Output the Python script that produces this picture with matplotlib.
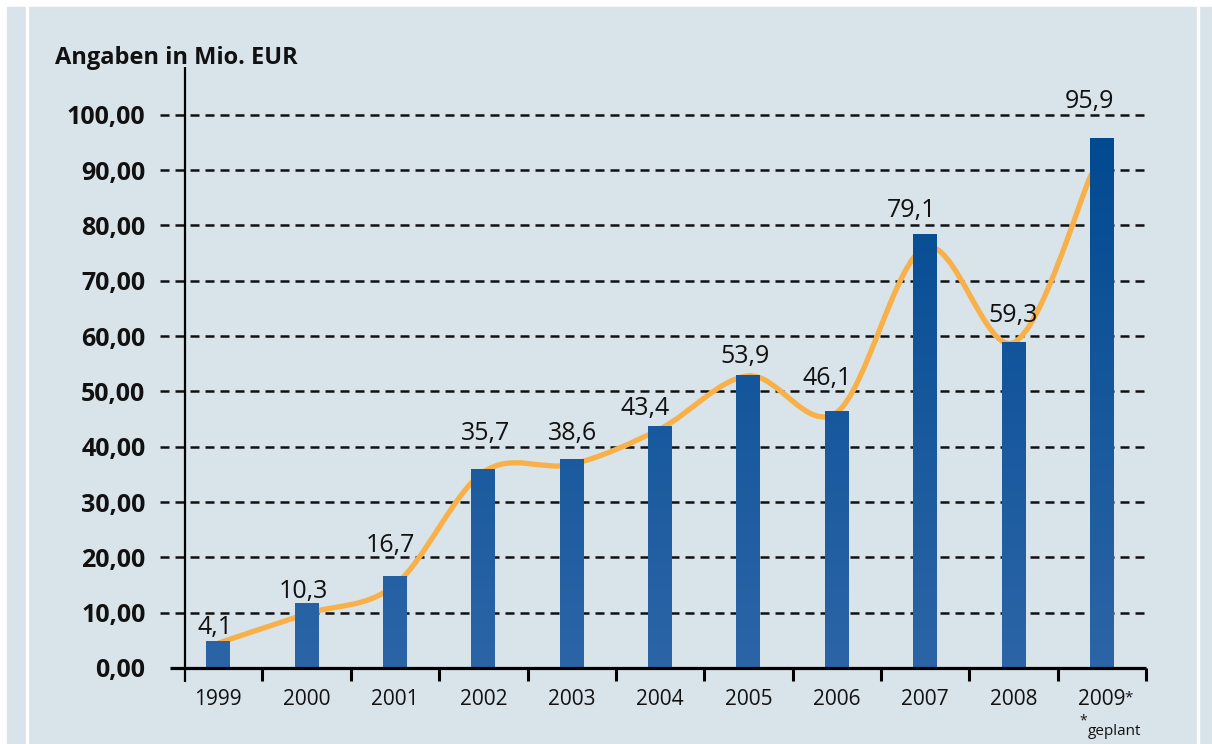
#!/usr/bin/env python3
"""Angaben in Mio. EUR, 1999-2009: bars with smoothed trend line."""

import numpy as np
import matplotlib.pyplot as plt
from matplotlib.patches import Rectangle, PathPatch
from matplotlib.path import Path
from matplotlib.colors import LinearSegmentedColormap

years = ["1999", "2000", "2001", "2002", "2003", "2004",
         "2005", "2006", "2007", "2008", "2009"]
labels = ["4,1", "10,3", "16,7", "35,7", "38,6", "43,4",
          "53,9", "46,1", "79,1", "59,3", "95,9"]
# bar heights as drawn in the picture
bar_heights = [4.7, 11.6, 16.6, 35.8, 37.6, 43.6, 52.9, 46.3, 78.3, 58.8, 95.7]
# trend line anchors (x in category units, y in Mio. EUR)
trend_x = [0, 1, 2, 3, 4, 5, 6, 7, 8, 9, 9.88]
trend_y = [4.5, 9.8, 15.0, 35.4, 36.8, 43.2, 52.8, 46.2, 76.0, 58.8, 89.2]
yticks = [0, 10, 20, 30, 40, 50, 60, 70, 80, 90, 100]

# label nudges in pixels (dx, dy above bar top)
label_dx = [-3, -3, -5, 2, 1, -15, -3, -10, -13, 0, -12]
label_dy = [8, 6, 24, 30, 20, 12, 12, 27, 18, 21, 31]

FONT = "Open Sans"
PANEL = "#d9e3ea"
ORANGE = "#f8b048"

W, H = 1212, 744
fig = plt.figure(figsize=(W / 100, H / 100), dpi=100)
fig.patch.set_facecolor("white")
fig.add_artist(Rectangle((7 / W, 0), (W - 7) / W, (H - 7) / H,
                         transform=fig.transFigure, color=PANEL, zorder=0))
for xl in (26, 1197):
    fig.add_artist(Rectangle((xl / W, 0), 2 / W, (H - 7) / H,
                             transform=fig.transFigure, color="white", zorder=0))

ax = fig.add_axes([160 / W, (H - 668) / H, (1146 - 160) / W, (668 - 65) / H])
ax.set_facecolor("none")
for s in ax.spines.values():
    s.set_visible(False)

x = np.arange(len(years))
xmin, xmax, ymax = -0.66, 10.5, 109

# dashed grid
ax.hlines(yticks[1:], xmin, xmax, colors="#111111", linewidth=1.8,
          linestyles=(0, (3.6, 2.4)), zorder=1)

# bars with vertical gradient
cmap = LinearSegmentedColormap.from_list("bars", ["#2b65a7", "#004990"])
bars = ax.bar(x, bar_heights, width=0.27, color="none", zorder=2)
for b in bars:
    x0, w, h = b.get_x(), b.get_width(), b.get_height()
    grad = np.linspace(0, h / 100, 64).reshape(-1, 1)
    ax.imshow(grad, extent=[x0, x0 + w, 0, h], origin="lower", cmap=cmap,
              vmin=0, vmax=1, aspect="auto", zorder=2)

# smooth trend line (Catmull-Rom -> cubic Bezier)
pts = np.column_stack([trend_x, trend_y])
verts = [pts[0]]
codes = [Path.MOVETO]
for i in range(len(pts) - 1):
    p0 = pts[max(i - 1, 0)]
    p1, p2 = pts[i], pts[i + 1]
    p3 = pts[min(i + 2, len(pts) - 1)]
    verts += [p1 + (p2 - p0) / 6, p2 - (p3 - p1) / 6, p2]
    codes += [Path.CURVE4] * 3
ax.add_patch(PathPatch(Path(verts, codes), facecolor="none", edgecolor=ORANGE,
                       linewidth=3.8, capstyle="round", zorder=1.5))

# value labels
for i, b in enumerate(bars):
    ax.annotate(labels[i], (b.get_x() + b.get_width() / 2, b.get_height()),
                xytext=(label_dx[i], label_dy[i]), textcoords="offset pixels",
                ha="center", va="baseline", fontsize=18, family=FONT,
                color="#111111", zorder=4)

# axes lines
ax.hlines(0, -0.55, xmax, colors="black", linewidth=2.3, clip_on=False, zorder=3)
ax.vlines(-0.375, -2.5, 108.7, colors="black", linewidth=1.6, clip_on=False, zorder=3)

ax.set_xlim(xmin, xmax)
ax.set_ylim(0, ymax)

ax.set_xticks(x)
ax.set_xticklabels(years, fontsize=15, family=FONT, color="#111111")
ax.set_xticks(np.arange(0.5, 11, 1), minor=True)
ax.tick_params(axis="x", which="major", length=0, pad=15)
ax.tick_params(axis="x", which="minor", length=9.5, width=2.2, direction="out",
               color="black")

ax.set_yticks(yticks)
ax.set_yticklabels([f"{v:.2f}".replace(".", ",") for v in yticks],
                   fontsize=18, fontweight="bold", family=FONT, color="#111111")
ax.tick_params(axis="y", length=0, pad=10.5)

ax.annotate("*", (10, 0), xytext=(23, -33), textcoords="offset pixels",
            fontsize=11, family=FONT, ha="left", va="baseline", color="#111111")
ax.annotate("*", (10, 0), xytext=(-22, -56), textcoords="offset pixels",
            fontsize=10, family=FONT, ha="left", va="baseline", color="#111111")
ax.annotate("geplant", (10, 0), xytext=(-14, -67), textcoords="offset pixels",
            fontsize=11, family=FONT, ha="left", va="baseline", color="#111111")

fig.text(55 / W, 1 - 64 / H, "Angaben in Mio. EUR", fontsize=17,
         fontweight="bold", family=FONT, color="#111111", ha="left", va="baseline")

fig.savefig("out.png", dpi=100, facecolor=fig.get_facecolor())
